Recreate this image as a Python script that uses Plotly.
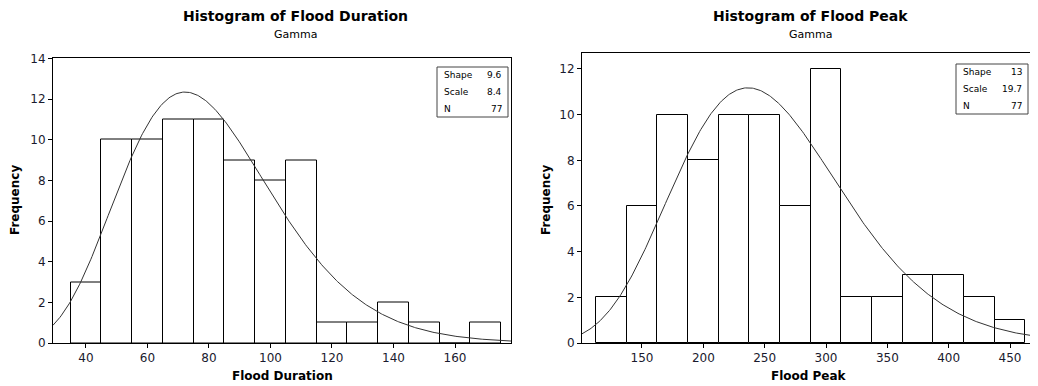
import math
import numpy as np
import plotly.graph_objects as go

# ---- data ----
dur_centers = [40, 50, 60, 70, 80, 90, 100, 110, 120, 130, 140, 150, 160, 170]
dur_counts = [3, 10, 10, 11, 11, 9, 8, 9, 1, 1, 2, 1, 0, 1]
dur_shape, dur_scale, dur_n = 9.6, 8.4, 77
dur_ticks = [40, 60, 80, 100, 120, 140, 160]

peak_centers = [125, 150, 175, 200, 225, 250, 275, 300, 325, 350, 375, 400, 425, 450]
peak_counts = [2, 6, 10, 8, 10, 10, 6, 12, 2, 2, 3, 3, 2, 1]
peak_shape, peak_scale, peak_n = 13, 19.7, 77
peak_ticks = [150, 200, 250, 300, 350, 400, 450]

OFF = 8  # page body margin offset
W, H = 1038 - OFF, 386 - OFF
FONT = "DejaVu Sans"
TXT = "#1a1a2e"


def gamma_curve(shape, scale, n, binw, lo, hi):
    xs = np.linspace(lo, hi, 400)
    lg = math.lgamma(shape)
    ys = np.exp((shape - 1) * np.log(xs) - xs / scale - lg - shape * math.log(scale)) * n * binw
    return xs, ys


def px(xp):
    return (xp - OFF) / W


def py(yp):
    return (H - (yp - OFF)) / H


fig = go.Figure()

panels = [
    dict(centers=dur_centers, counts=dur_counts, shape=dur_shape, scale=dur_scale, n=dur_n,
         binw=10, xr=[29.3, 178.2], yr=[0, 14.05], ticks=dur_ticks, ydt=2,
         xdom=[53, 511], ydom=[343, 57.5], title="Histogram of Flood Duration",
         xlabel="Flood Duration", tcx=295, fx=15, box=[437, 67, 508, 117],
         vals=["9.6", "8.4", "77"], xa="x", ya="y"),
    dict(centers=peak_centers, counts=peak_counts, shape=peak_shape, scale=peak_scale, n=peak_n,
         binw=25, xr=[101.1, 472.8], yr=[0, 12.7], ticks=peak_ticks, ydt=2,
         xdom=[582, 1038], ydom=[343, 53], title="Histogram of Flood Peak",
         xlabel="Flood Peak", tcx=810, fx=546, box=[956, 64, 1028, 114],
         vals=["13", "19.7", "77"], xa="x2", ya="y2"),
]

annotations = []
shapes = []
for i, p in enumerate(panels):
    fig.add_trace(go.Bar(x=p["centers"], y=p["counts"], width=p["binw"],
                         marker=dict(color="white", line=dict(color="black", width=1)),
                         xaxis=p["xa"], yaxis=p["ya"], showlegend=False))
    xs, ys = gamma_curve(p["shape"], p["scale"], p["n"], p["binw"], p["xr"][0], p["xr"][1])
    fig.add_trace(go.Scatter(x=xs, y=ys, mode="lines", line=dict(color="#333333", width=1),
                             xaxis=p["xa"], yaxis=p["ya"], showlegend=False, hoverinfo="skip"))
    suffix = "" if i == 0 else "2"
    axcommon = dict(showline=True, linecolor="black", linewidth=1, mirror=True,
                    ticks="outside", ticklen=4, tickcolor="black", showgrid=False,
                    zeroline=False, automargin=False,
                    tickfont=dict(family=FONT, size=12, color=TXT))
    fig.layout["xaxis" + suffix] = dict(domain=[px(p["xdom"][0]), px(p["xdom"][1])],
                                        range=p["xr"], tickvals=p["ticks"],
                                        anchor="y" + suffix, **axcommon)
    fig.layout["yaxis" + suffix] = dict(domain=[py(p["ydom"][0]), py(p["ydom"][1])],
                                        range=p["yr"], dtick=p["ydt"], tick0=0,
                                        anchor="x" + suffix, **axcommon)
    cx = (p["xdom"][0] + min(p["xdom"][1], 1036)) / 2
    annotations += [
        dict(x=px(p["tcx"]), y=py(16), xref="paper", yref="paper", text="<b>" + p["title"] + "</b>",
             showarrow=False, font=dict(family=FONT, size=14, color="black"),
             xanchor="center", yanchor="middle"),
        dict(x=px(p["tcx"]), y=py(34), xref="paper", yref="paper", text="Gamma",
             showarrow=False, font=dict(family=FONT, size=11, color="black"),
             xanchor="center", yanchor="middle"),
        dict(x=px(cx), y=py(376), xref="paper", yref="paper", text="<b>" + p["xlabel"] + "</b>",
             showarrow=False, font=dict(family=FONT, size=12, color="black"),
             xanchor="center", yanchor="middle"),
        dict(x=px(p["fx"]), y=py(200), xref="paper", yref="paper", text="<b>Frequency</b>",
             showarrow=False, textangle=-90, font=dict(family=FONT, size=12, color="black"),
             xanchor="center", yanchor="middle"),
    ]
    bx0, by0, bx1, by1 = p["box"]
    shapes.append(dict(type="rect", xref="paper", yref="paper", x0=px(bx0), x1=px(bx1),
                       y0=py(by1), y1=py(by0), line=dict(color="#444", width=1),
                       fillcolor="white", layer="above"))
    labels = ["Shape", "Scale", "N"]
    rowh = (by1 - by0) / 3
    for j, (lab, val) in enumerate(zip(labels, p["vals"])):
        yy = by0 + rowh * (j + 0.5)
        annotations.append(dict(x=px(bx0 + 5), y=py(yy), xref="paper", yref="paper", text=lab,
                                showarrow=False, xanchor="left", yanchor="middle",
                                font=dict(family=FONT, size=9, color="black")))
        annotations.append(dict(x=px(bx1 - 4), y=py(yy), xref="paper", yref="paper", text=val,
                                showarrow=False, xanchor="right", yanchor="middle",
                                font=dict(family=FONT, size=9, color="black")))

fig.update_layout(width=W, height=H, margin=dict(l=0, r=0, t=0, b=0, pad=0, autoexpand=False),
                  paper_bgcolor="white", plot_bgcolor="white", bargap=0,
                  annotations=annotations, shapes=shapes, showlegend=False)

fig.write_html("out.html")
